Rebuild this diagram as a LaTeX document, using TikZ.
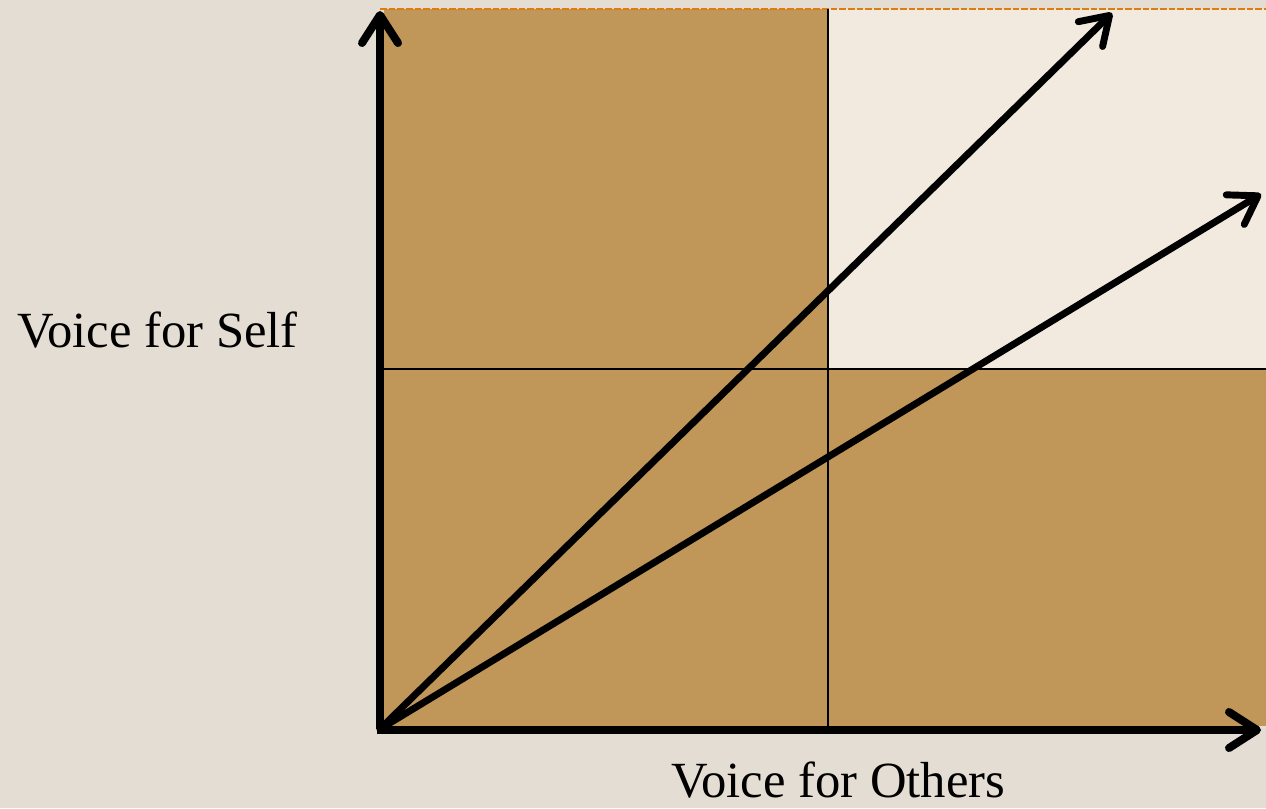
\documentclass[tikz,border=0pt]{standalone}
\usepackage{fontspec}
\setmainfont{Liberation Serif}
\usetikzlibrary{arrows.meta}
\definecolor{bgc}{HTML}{E4DDD3}
\definecolor{tanc}{HTML}{C19759}
\definecolor{lightc}{HTML}{F2EADF}
\definecolor{orangec}{HTML}{E07B10}
\tikzset{
  axis/.style={line width=6pt, -{Straight Barb[length=21pt,width=27pt,line cap=round,line join=round]}},
  vec/.style={line width=5.2pt, line cap=round, -{Straight Barb[length=20pt,width=26pt,line cap=round,line join=round]}},
  divider/.style={line width=1.5pt, black},
  lbl/.style={font=\fontsize{38}{44}\selectfont, inner sep=0pt, text=black}
}
\begin{document}
\begin{tikzpicture}[x=0.75pt,y=-0.75pt]
\useasboundingbox (0,0) rectangle (1266,808);
\fill[bgc] (0,0) rectangle (1266,808);
% quadrants
\fill[tanc] (384,9) rectangle (1266,726);
\fill[lightc] (828,9) rectangle (1266,369);
\draw[orangec, line width=1.5pt, dash pattern=on 5pt off 1.5pt] (380,9) -- (1266,9);
% dividers
\coordinate (vt) at (828,9);
\coordinate (vb) at (828,726);
\coordinate (hl) at (384,369);
\coordinate (hr) at (1266,369);
\draw[divider] (vt) -- (vb);
\draw[divider] (hl) -- (hr);
% axes
\coordinate (O) at (380,729);
\coordinate (Yend) at (380,11);
\coordinate (Ostart) at (377,730);
\coordinate (Xend) at (1261,730);
\draw[axis] (O) -- (Yend);
\draw[axis] (Ostart) -- (Xend);
% vectors
\coordinate (A1) at (1112,13);
\coordinate (A2) at (1261,194);
\draw[vec] (O) -- (A1);
\draw[vec] (O) -- (A2);
% labels
\node[lbl, anchor=base west] (self) at (17,347) {Voice for Self};
\node[lbl, anchor=base west] (others) at (671,797) {Voice for Others};
\end{tikzpicture}
\end{document}
